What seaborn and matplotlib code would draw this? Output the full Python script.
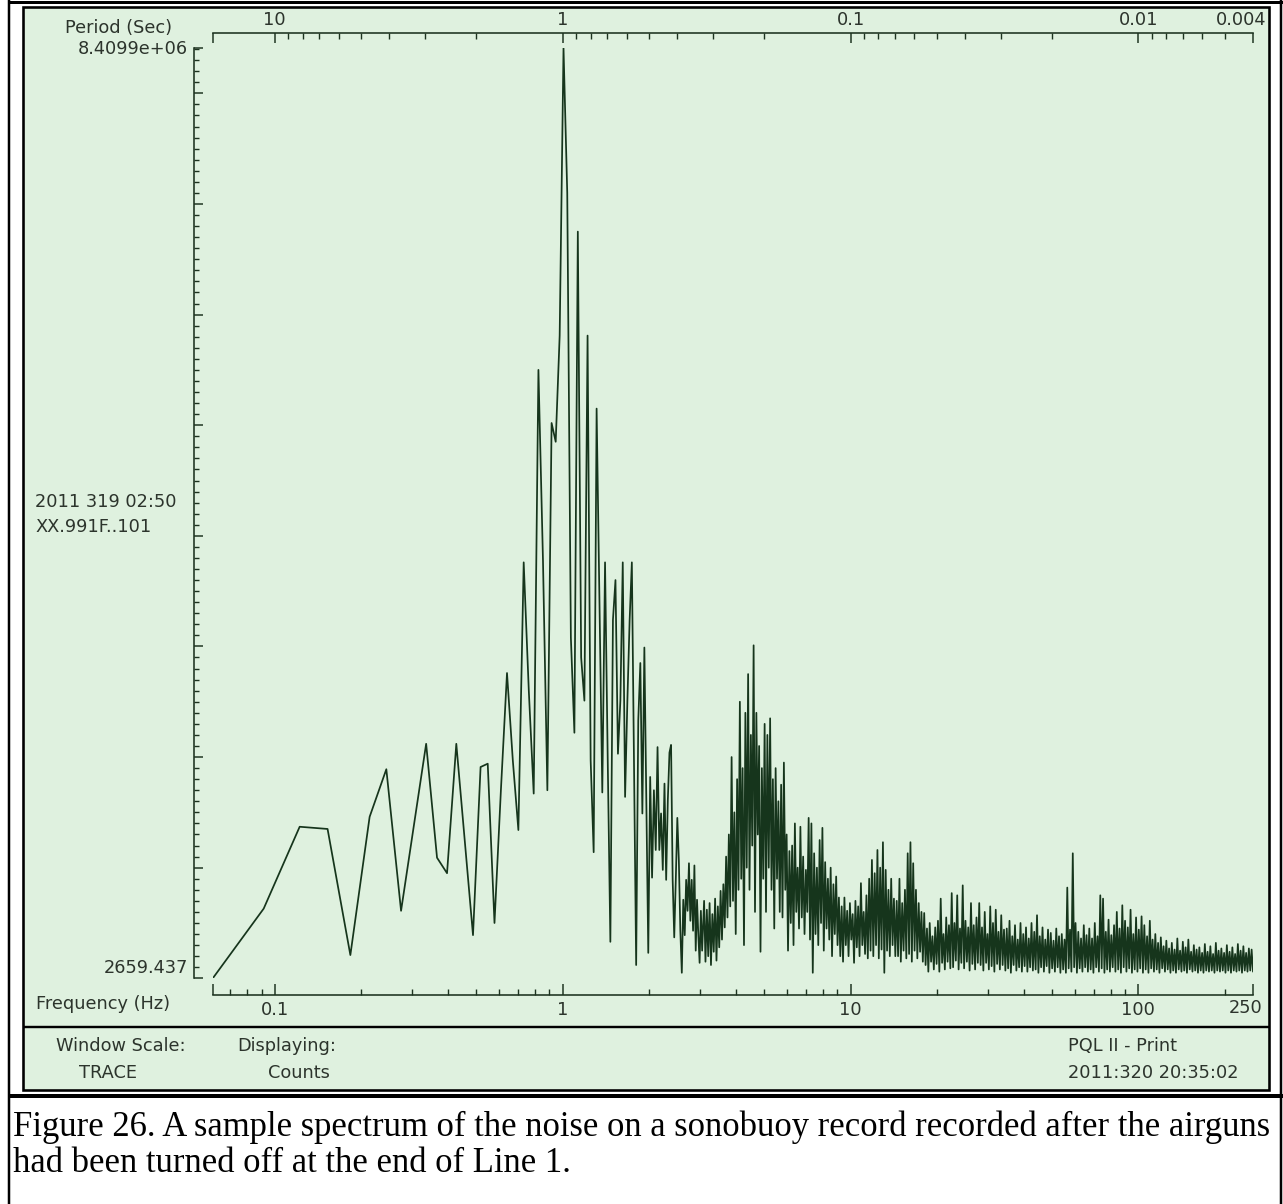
import numpy as np
import pandas as pd
import matplotlib
matplotlib.use("Agg")
import matplotlib.pyplot as plt
from matplotlib.lines import Line2D
from matplotlib.patches import Rectangle
from matplotlib.ticker import FixedLocator, FixedFormatter, MultipleLocator, NullFormatter
import seaborn as sns

# ---------------------------------------------------------------- data
SAMPLE_RATE = 500.0          # Hz
NFFT = 16384                 # FFT length -> bin spacing
DF = SAMPLE_RATE / NFFT
AMP_UNIT = 1e5               # amplitudes below are in units of 1e5 counts

Y_MIN = 2659.437
Y_MAX = 8.4099e6

# spectrum bins 2..100 (0.061 - 3.05 Hz)
low_amp = [
    0.02659437, 6.3, 13.7, 13.5, 2.1, 14.6, 18.9, 6.1, 14.0, 21.2,
    10.9, 9.5, 21.2, 12.3, 3.9, 19.1, 19.4, 5.0, 17.0, 27.6,
    19.7, 13.4, 37.6, 26.0, 16.7, 55.0, 37.8, 17.0, 50.2, 48.5,
    58.1, 84.099, 71.0, 30.8, 22.2, 67.5, 29.0, 25.1, 58.1, 19.7,
    11.4, 51.5, 34.2, 16.8, 37.6, 19.7, 3.3, 32.4, 36.0, 20.3,
    25.1, 37.6, 16.4, 25.1, 32.4, 37.6, 19.7, 1.2, 23.3, 28.5,
    14.9, 29.9, 16.1, 2.3, 18.2, 9.1, 17.0, 11.6, 20.9, 11.6,
    14.9, 9.8, 17.6, 8.9, 16.1, 20.4, 21.1, 8.9, 3.7, 8.9,
    14.5, 10.7, 4.3, 0.5, 7.1, 3.9, 8.9, 6.1, 10.4, 5.2,
    8.9, 4.3, 10.2, 2.5, 7.1, 3.9, 1.4, 6.1, 2.5,
]

# dense part of the spectrum, 3.1 - 250 Hz: successive local maxima / minima
BAND_START_HZ = 3.1
BAND_STOP_HZ = 250.0
band_amp = [
    # 3.1 - 3.9 Hz
    7.0, 1.5, 6.2, 2.0, 6.8, 1.2, 5.8, 2.4, 7.2, 1.6, 6.5, 2.8, 7.9, 3.5, 8.5, 4.6, 11.0, 5.5, 13.0, 6.5,
    # 3.9 - 4.8 Hz
    20.0, 7.0, 15.0, 4.0, 18.0, 8.0, 25.0, 9.0, 19.0, 3.0, 24.0, 10.0, 27.5, 8.0, 22.0, 12.0, 30.1, 6.0, 24.0, 13.0,
    # 4.8 - 6.0 Hz
    21.0, 2.4, 19.0, 9.0, 23.0, 6.0, 22.0, 10.0, 23.5, 8.0, 18.0, 4.5, 19.0, 9.0, 16.0, 6.0, 17.5, 5.5, 19.5, 8.0,
    # 6.0 - 7.6 Hz
    13.0, 2.5, 11.5, 5.0, 12.0, 3.0, 14.0, 6.0, 10.0, 4.5, 13.7, 5.5, 11.0, 4.0, 9.8, 6.0, 14.5, 3.5, 14.0, 0.5,
    # 7.6 - 9.3 Hz
    11.3, 4.0, 10.0, 3.0, 12.5, 5.0, 13.6, 2.5, 10.5, 4.5, 9.0, 3.5, 10.0, 2.0, 8.5, 4.0, 9.2, 3.0, 7.3, 2.0,
    # 9.3 - 11.6 Hz
    6.5, 1.5, 7.3, 3.0, 6.1, 2.0, 6.8, 3.5, 5.8, 1.4, 7.0, 2.8, 6.5, 2.0, 8.6, 3.0, 6.0, 2.2, 7.5, 1.8,
    # 11.6 - 14.5 Hz
    9.0, 2.5, 10.7, 2.0, 9.5, 3.0, 11.6, 1.8, 10.0, 2.6, 12.3, 0.5, 9.8, 2.5, 8.0, 2.0, 9.0, 3.0, 7.2, 2.0,
    # 14.5 - 18 Hz
    7.0, 2.0, 9.0, 1.5, 6.8, 2.5, 8.0, 1.8, 11.3, 2.2, 12.3, 1.5, 10.4, 2.5, 8.0, 1.8, 6.8, 2.4, 6.0, 1.5,
    # 18 - 22.5 Hz
    5.9, 1.2, 4.5, 0.6, 5.0, 1.5, 3.8, 0.8, 4.6, 1.3, 5.2, 0.6, 7.2, 1.4, 4.0, 0.8, 5.5, 1.5, 4.8, 0.9,
    # 22.5 - 28 Hz
    7.7, 1.0, 5.0, 1.6, 7.5, 0.8, 4.5, 1.4, 8.4, 0.9, 5.2, 1.5, 4.6, 0.7, 6.8, 1.3, 4.8, 0.8, 5.5, 1.4,
    # 28 - 35 Hz
    6.8, 1.2, 4.6, 0.7, 6.0, 1.4, 4.0, 0.8, 6.5, 1.1, 5.0, 0.6, 6.2, 1.3, 4.2, 0.8, 5.7, 1.2, 4.4, 0.7,
    # 35 - 43.5 Hz
    4.5, 0.9, 5.2, 0.5, 3.8, 1.2, 4.8, 0.7, 3.5, 1.0, 5.0, 0.6, 4.0, 1.1, 4.6, 0.6, 3.6, 1.0, 5.0, 0.7,
    # 43.5 - 54 Hz
    4.2, 0.8, 5.7, 0.5, 3.8, 1.0, 4.6, 0.6, 3.5, 1.1, 4.4, 0.5, 4.1, 0.9, 3.4, 0.6, 4.5, 1.0, 3.8, 0.5,
    # 54 - 67 Hz
    4.0, 0.8, 3.5, 0.5, 8.2, 0.9, 4.4, 0.6, 11.3, 1.0, 5.0, 0.5, 4.2, 0.9, 3.6, 0.6, 4.8, 1.0, 3.9, 0.6,
    # 67 - 84 Hz
    4.5, 0.8, 3.6, 0.5, 5.0, 1.0, 3.8, 0.6, 7.5, 0.9, 7.2, 0.5, 4.2, 0.8, 5.3, 0.6, 3.9, 1.0, 4.8, 0.6,
    # 84 - 105 Hz
    6.0, 0.8, 4.5, 0.5, 6.6, 1.0, 5.2, 0.6, 4.6, 0.9, 6.2, 0.5, 4.0, 0.8, 5.5, 0.6, 4.4, 0.9, 5.6, 0.5,
    # 105 - 130 Hz
    4.8, 0.8, 3.8, 0.5, 5.2, 0.9, 3.5, 0.6, 4.0, 0.8, 3.2, 0.5, 3.7, 0.9, 2.9, 0.6, 3.4, 0.8, 2.7, 0.5,
    # 130 - 162 Hz
    3.2, 0.7, 2.6, 0.5, 3.6, 0.8, 2.5, 0.6, 3.3, 0.7, 2.8, 0.5, 3.5, 0.8, 2.4, 0.6, 3.0, 0.7, 2.6, 0.5,
    # 162 - 202 Hz
    2.8, 0.7, 2.3, 0.5, 3.1, 0.7, 2.4, 0.6, 2.9, 0.7, 2.2, 0.5, 3.2, 0.7, 2.5, 0.6, 2.7, 0.7, 2.3, 0.5,
    # 202 - 250 Hz
    3.0, 0.7, 2.4, 0.5, 2.8, 0.7, 2.2, 0.6, 3.1, 0.7, 2.5, 0.5, 2.9, 0.7, 2.3, 0.6, 2.7, 0.7, 2.6, 0.6,
]

bottom_major = [0.1, 1, 10, 100, 250]
bottom_labels = ["0.1", "1", "10", "100", "250"]
top_major = [10, 1, 0.1, 0.01, 0.004]
top_labels = ["10", "1", "0.1", "0.01", "0.004"]

station_lines = ["2011 319 02:50", "XX.991F..101"]
footer_left = [("Window Scale:", "TRACE"), ("Displaying:", "Counts")]
footer_right = ["PQL II - Print", "2011:320 20:35:02"]
caption = ["Figure 26. A sample spectrum of the noise on a sonobuoy record recorded after the airguns",
           "had been turned off at the end of Line 1."]

# ---------------------------------------------------------------- table
low_freq = DF * np.arange(2, 2 + len(low_amp))
band_freq = np.geomspace(BAND_START_HZ, BAND_STOP_HZ, len(band_amp))
spec = pd.DataFrame({
    "freq": np.concatenate([low_freq, band_freq]),
    "amp": np.concatenate([low_amp, band_amp]) * AMP_UNIT,
})

# ---------------------------------------------------------------- style
sns.set_theme(style="white")
plt.rcParams["font.family"] = ["DejaVu Sans"]

W, H, DPI = 1283, 1204, 100
GREEN = "#dff1df"
INK = "#16351c"
TXT = "#2c342c"
AX = "#1d3320"
FS = 12.8
PT = 72.0 / DPI   # points per pixel

fig = plt.figure(figsize=(W / DPI, H / DPI), dpi=DPI)
fig.patch.set_facecolor("white")


def fx(px):
    return px / W


def fy(py):
    return 1 - py / H


def hline(y, x0, x1, lw_px, color="black"):
    fig.add_artist(Line2D([fx(x0), fx(x1)], [fy(y), fy(y)], transform=fig.transFigure,
                          color=color, lw=lw_px * PT, solid_capstyle="butt"))


def vline(x, y0, y1, lw_px, color="black"):
    fig.add_artist(Line2D([fx(x), fx(x)], [fy(y0), fy(y1)], transform=fig.transFigure,
                          color=color, lw=lw_px * PT, solid_capstyle="butt"))


# document table lines
hline(1.5, 8, W, 3)
vline(9, 0, H, 2.5)
vline(1281, 0, H, 2.5)
hline(1095.5, 8, W, 4)

# plot window
fig.add_artist(Rectangle((fx(23), fy(1089.5)), (1268.5 - 23) / W, (1089.5 - 6.5) / H,
                         transform=fig.transFigure, facecolor=GREEN, edgecolor="black",
                         lw=2.6 * PT, zorder=-1))
hline(1027, 23, 1268.5, 2.4)

# ---------------------------------------------------------------- axes
ax = fig.add_axes([fx(213), fy(978), (1253 - 213) / W, (978 - 48) / H])
ax.set_facecolor("none")
sns.lineplot(data=spec, x="freq", y="amp", ax=ax, color=INK, lw=1.25,
             estimator=None, sort=False, legend=False)
ax.set_xscale("log")
ax.set_xlim(DF * 2, BAND_STOP_HZ)
ax.set_ylim(Y_MIN, Y_MAX)
ax.set_xlabel("")
ax.set_ylabel("")

for s in ("top", "right"):
    ax.spines[s].set_visible(False)
ax.spines["left"].set_position(("outward", 19 * PT))
ax.spines["bottom"].set_position(("outward", 17 * PT))
for s in ("left", "bottom"):
    ax.spines[s].set_color(AX)
    ax.spines[s].set_linewidth(1.6 * PT)
ax.tick_params(which="both", left=True, bottom=True, top=False, right=False)

# frequency axis (end labels are placed by hand below)
xmaj = [DF * 2] + bottom_major
ax.xaxis.set_major_locator(FixedLocator(xmaj))
ax.xaxis.set_major_formatter(FixedFormatter([""] + bottom_labels[:-1] + [""]))
xmin_ticks = [m * d for d in (0.01, 0.1, 1, 10, 100) for m in range(2, 10)]
xmin_ticks = [t for t in xmin_ticks if DF * 2 < t < BAND_STOP_HZ]
ax.xaxis.set_minor_locator(FixedLocator(xmin_ticks))
ax.xaxis.set_minor_formatter(NullFormatter())
ax.tick_params(axis="x", which="major", direction="in", length=11 * PT, width=1.5 * PT,
               color=AX, labelsize=FS, labelcolor=TXT, pad=4)
ax.tick_params(axis="x", which="minor", direction="in", length=6 * PT, width=1.4 * PT, color=AX)

# amplitude axis
ymaj = [Y_MIN] + [k * 1e6 for k in range(1, 9)] + [Y_MAX]
ax.yaxis.set_major_locator(FixedLocator(ymaj))
ax.yaxis.set_major_formatter(NullFormatter())
ax.yaxis.set_minor_locator(MultipleLocator(1e5))
ax.yaxis.set_minor_formatter(NullFormatter())
ax.tick_params(axis="y", which="major", direction="in", length=9 * PT, width=1.5 * PT, color=AX)
ax.tick_params(axis="y", which="minor", direction="in", length=5 * PT, width=1.4 * PT, color=AX)

# period axis
sec = ax.secondary_xaxis(1 + 15 / 930, functions=(lambda f: 1.0 / f, lambda p: 1.0 / p))
tmaj = [1.0 / (DF * 2)] + top_major
sec.xaxis.set_major_locator(FixedLocator(tmaj))
sec.xaxis.set_major_formatter(FixedFormatter([""] + top_labels[:-1] + [""]))
tmin = [m * d for d in (0.001, 0.01, 0.1, 1) for m in range(2, 10)]
tmin = [t for t in tmin if 0.004 < t < 1.0 / (DF * 2)]
sec.xaxis.set_minor_locator(FixedLocator(tmin))
sec.xaxis.set_minor_formatter(NullFormatter())
sec.spines["top"].set_color(AX)
sec.spines["top"].set_linewidth(1.6 * PT)
sec.tick_params(axis="x", which="major", direction="in", length=10 * PT, width=1.5 * PT,
                color=AX, labelsize=FS, labelcolor=TXT, pad=3)
sec.tick_params(axis="x", which="minor", direction="in", length=6 * PT, width=1.4 * PT, color=AX)

# ---------------------------------------------------------------- texts
txt_kw = dict(fontsize=FS, color=TXT, va="center")
fig.text(fx(1246), fy(1008), bottom_labels[-1], ha="center", **txt_kw)
fig.text(fx(1241), fy(20), top_labels[-1], ha="center", **txt_kw)
fig.text(fx(188), fy(49), f"{Y_MAX:.4e}", ha="right", **txt_kw)
fig.text(fx(188), fy(968), f"{Y_MIN:.3f}", ha="right", **txt_kw)
fig.text(fx(65), fy(28), "Period (Sec)", ha="left", **txt_kw)
fig.text(fx(35), fy(502), station_lines[0], ha="left", **txt_kw)
fig.text(fx(35), fy(527), station_lines[1], ha="left", **txt_kw)
fig.text(fx(36), fy(1004), "Frequency (Hz)", ha="left", **txt_kw)
for (head, val), xc in zip(footer_left, (121, 287)):
    fig.text(fx(xc), fy(1046), head, ha="center", **txt_kw)
for (head, val), xc in zip(footer_left, (108, 299)):
    fig.text(fx(xc), fy(1073), val, ha="center", **txt_kw)
fig.text(fx(1068), fy(1046), footer_right[0], ha="left", **txt_kw)
fig.text(fx(1068), fy(1073), footer_right[1], ha="left", **txt_kw)

# caption, sized so the first line fills the cell width
renderer = fig.canvas.get_renderer()
cap1 = fig.text(fx(13), fy(1127), caption[0], ha="left", va="center",
                family="Liberation Serif", fontsize=20, color="black")
wpx = cap1.get_window_extent(renderer).width
size = 20 * (1257 / wpx)
cap1.set_fontsize(size)
fig.text(fx(13), fy(1164), caption[1], ha="left", va="center",
         family="Liberation Serif", fontsize=size, color="black")

fig.savefig("out.png", dpi=DPI, facecolor="white")
